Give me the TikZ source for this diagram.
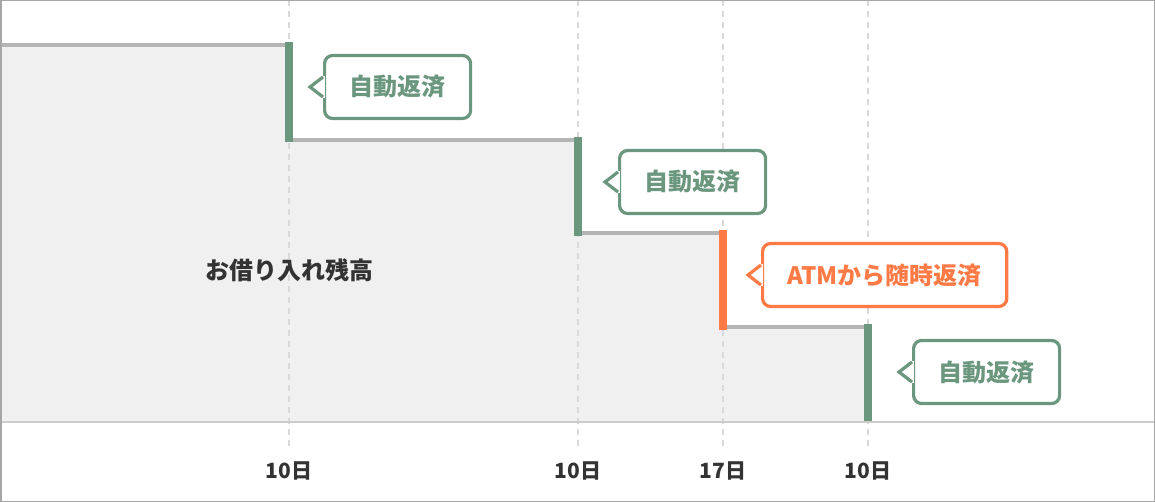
\documentclass[tikz,border=0pt]{standalone}
\usepackage{fontspec}
\setmainfont{Noto Sans CJK JP}
\definecolor{grn}{HTML}{6B977F}
\definecolor{org}{HTML}{FF7A45}
\definecolor{areagray}{HTML}{F0F0F0}
\definecolor{stepg}{HTML}{B5B5B5}
\definecolor{txt}{HTML}{333333}
\tikzset{
  callbox/.style={draw=#1,line width=3.2pt,rounded corners=8pt,fill=white,minimum height=63pt,inner xsep=25pt,text=#1,font=\fontsize{24pt}{25pt}\selectfont\bfseries},
  bar/.style={line width=8pt},
  vguide/.style={draw=black!15,line width=1.3pt,dash pattern=on 6pt off 5pt},
  axlab/.style={font=\fontsize{21pt}{22pt}\selectfont\bfseries,text=txt}
}
\newcommand{\pointer}[2]{% node name, color
  \fill[white] ([yshift=-11pt]#1.west) rectangle ([yshift=11pt,xshift=2pt]#1.west);
  \draw[#2,line width=3.2pt,line join=miter] ([yshift=-10pt]#1.west) -- ([xshift=-13pt]#1.west) -- ([yshift=10pt]#1.west);
}
\begin{document}
\begin{tikzpicture}[x=1pt,y=-1pt]
\useasboundingbox (0,0) rectangle (1155,502);
\fill[areagray] (0,45) -- (289,45) -- (289,140) -- (578,140) -- (578,233) -- (723,233) -- (723,327) -- (868,327) -- (868,422) -- (0,422) -- cycle;
\foreach \x in {289,578,723,868} \draw[vguide] (\x,0) -- (\x,448);
\draw[stepg,line width=4pt] (0,45) -- (289,45) (289,140) -- (578,140) (578,233) -- (723,233) (723,327) -- (868,327);
\draw[black!20,line width=2pt] (0,422) -- (1155,422);
\draw[grn,bar] (289,42) -- (289,142);
\draw[grn,bar] (578,137) -- (578,236);
\draw[org,bar] (723,230) -- (723,330);
\draw[grn,bar] (868,324) -- (868,421);
\node[callbox=grn,anchor=west] (c1) at (323,87) {自動返済};
\node[callbox=grn,anchor=west] (c2) at (618,182) {自動返済};
\node[callbox=org,anchor=west] (c3) at (761,275) {ATMから随時返済};
\node[callbox=grn,anchor=west] (c4) at (912,372) {自動返済};
\pointer{c1}{grn}\pointer{c2}{grn}\pointer{c3}{org}\pointer{c4}{grn}
\node[font=\fontsize{24pt}{25pt}\selectfont\bfseries,text=txt] (bal) at (289,270) {お借り入れ残高};
\node[axlab] (a1) at (289,471) {10日};
\node[axlab] (a2) at (578,471) {10日};
\node[axlab] (a3) at (723,471) {17日};
\node[axlab] (a4) at (868,471) {10日};
\draw[black!35,line width=1.5pt] (0.75,0.75) rectangle (1154.25,501.25);
\end{tikzpicture}
\end{document}
